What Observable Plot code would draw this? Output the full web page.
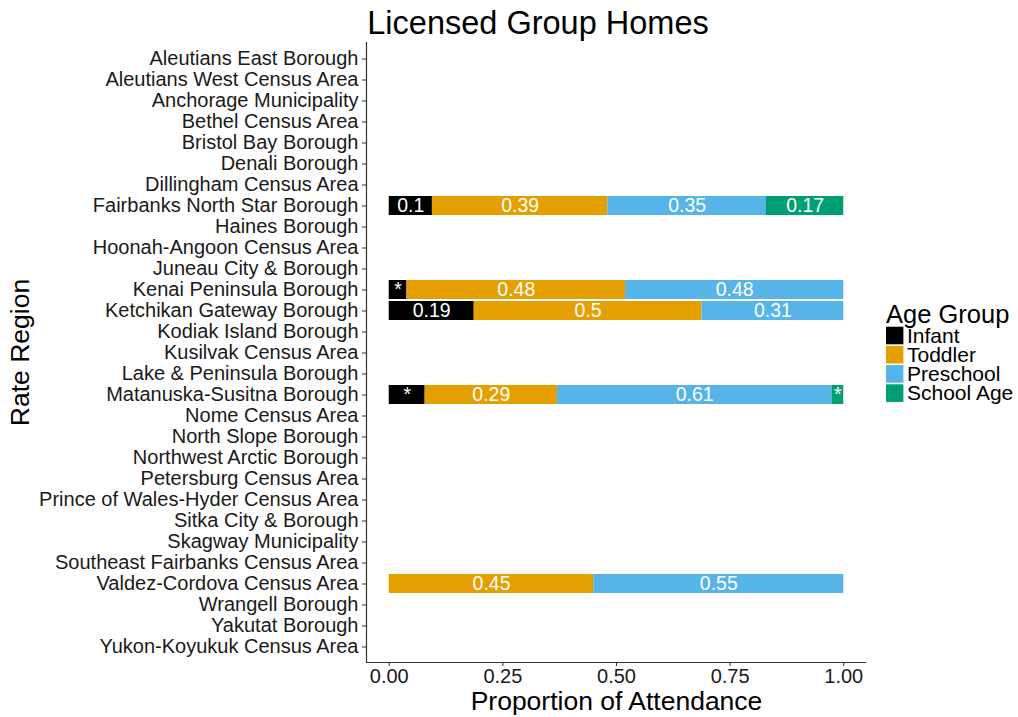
<!DOCTYPE html>
<html><head><meta charset="utf-8">
<script src="https://cdn.jsdelivr.net/npm/d3@7"></script>
<script src="https://cdn.jsdelivr.net/npm/@observablehq/plot@0.6"></script>
<style>
body{margin:0;background:#fff;}
#wrap{position:relative;width:1018px;height:717px;font-family:"Liberation Sans",Arial,sans-serif;}
#legend{position:absolute;left:870px;top:290px;}
</style>
</head><body><div id="wrap"></div>
<script>
const regions = [
  "Aleutians East Borough","Aleutians West Census Area","Anchorage Municipality","Bethel Census Area",
  "Bristol Bay Borough","Denali Borough","Dillingham Census Area","Fairbanks North Star Borough",
  "Haines Borough","Hoonah-Angoon Census Area","Juneau City & Borough","Kenai Peninsula Borough",
  "Ketchikan Gateway Borough","Kodiak Island Borough","Kusilvak Census Area","Lake & Peninsula Borough",
  "Matanuska-Susitna Borough","Nome Census Area","North Slope Borough","Northwest Arctic Borough",
  "Petersburg Census Area","Prince of Wales-Hyder Census Area","Sitka City & Borough","Skagway Municipality",
  "Southeast Fairbanks Census Area","Valdez-Cordova Census Area","Wrangell Borough","Yakutat Borough",
  "Yukon-Koyukuk Census Area"
];
const groups = ["Infant","Toddler","Preschool","School Age"];
const groupColors = ["#000000","#E69F00","#56B4E9","#009E73"];

const barRegions = ["Fairbanks North Star Borough","Kenai Peninsula Borough","Ketchikan Gateway Borough","Matanuska-Susitna Borough","Valdez-Cordova Census Area"];
const infant    = [0.095, 0.039, 0.187, 0.079, 0];
const toddler   = [0.386, 0.481, 0.501, 0.291, 0.450];
const preschool = [0.349, 0.480, 0.312, 0.604, 0.550];
const schoolAge = [0.170, 0,     0,     0.026, 0];
const infantLabels    = ["0.1","*","0.19","*",""];
const toddlerLabels   = ["0.39","0.48","0.5","0.29","0.45"];
const preschoolLabels = ["0.35","0.48","0.31","0.61","0.55"];
const schoolAgeLabels = ["0.17","","","*",""];
const xTicks = [0, 0.25, 0.5, 0.75, 1];

const series = [[infant, infantLabels],[toddler, toddlerLabels],[preschool, preschoolLabels],[schoolAge, schoolAgeLabels]];
const rows = [];
barRegions.forEach((r, i) => {
  series.forEach(([vals, labs], g) => {
    if (vals[i] > 0) rows.push({region: r, group: groups[g], value: vals[i], label: labs[i]});
  });
});

const font = '"Liberation Sans", Arial, sans-serif';
const axisColor = "#333333";

const bottomLine = (index, scales, values, dims) => {
  const l = document.createElementNS("http://www.w3.org/2000/svg", "line");
  const x0 = dims.marginLeft, x1 = dims.width - dims.marginRight;
  const y = dims.height - dims.marginBottom + 0.5;
  l.setAttribute("x1", x0); l.setAttribute("x2", x1);
  l.setAttribute("y1", y); l.setAttribute("y2", y);
  l.setAttribute("stroke", axisColor); l.setAttribute("stroke-width", 1.2);
  return l;
};

const chart = Plot.plot({
  width: 1018, height: 717,
  marginLeft: 366, marginRight: 152, marginTop: 42, marginBottom: 55,
  style: {fontFamily: font, background: "white", color: "#1a1a1a", overflow: "visible"},
  x: {domain: [-0.05, 1.05]},
  y: {domain: regions, paddingInner: 0.1, paddingOuter: 0.15},
  color: {domain: groups, range: groupColors},
  marks: [
    Plot.barX(rows, {x: "value", y: "region", fill: "group", order: groups}),
    Plot.text(rows, Plot.stackX({x: "value", y: "region", z: "group", order: groups, text: "label", fill: "white", fontSize: 19.5})),
    Plot.ruleX([-0.05], {stroke: axisColor, strokeWidth: 1.2}),
    bottomLine,
    Plot.axisX({ticks: xTicks, tickFormat: d => d.toFixed(2), tickSize: 4, tickPadding: 2, fontSize: 20, label: null, stroke: axisColor, fill: "#1a1a1a"}),
    Plot.axisY({tickSize: 4, tickPadding: 4, fontSize: 20, label: null, stroke: axisColor, fill: "#1a1a1a"}),
    Plot.text(["Licensed Group Homes"], {text: d => d, frameAnchor: "top-left", dx: 171.5, dy: -19, textAnchor: "middle", lineAnchor: "middle", fontSize: 32.5, fill: "#000"}),
    Plot.text(["Proportion of Attendance"], {text: d => d, frameAnchor: "bottom", dy: 39.5, textAnchor: "middle", lineAnchor: "middle", fontSize: 26.5, fill: "#000"}),
    Plot.text(["Rate Region"], {text: d => d, frameAnchor: "left", dx: -346, rotate: -90, textAnchor: "middle", lineAnchor: "middle", fontSize: 26.5, fill: "#000"})
  ]
});

const wrap = document.getElementById("wrap");
wrap.appendChild(chart);

// Legend
const lg = d3.select(wrap).append("svg").attr("id", "legend").attr("width", 148).attr("height", 125)
  .style("font-family", font);
lg.append("text").attr("x", 16).attr("y", 32.7).attr("font-size", 25.5).attr("fill", "#000").text("Age Group");
groups.forEach((g, i) => {
  const y0 = 36.7 + i * 19.2;
  lg.append("rect").attr("x", 16).attr("y", y0).attr("width", 17.4).attr("height", 17.6).attr("fill", groupColors[i]);
  lg.append("text").attr("x", 37).attr("y", y0 + 8.8).attr("dy", "0.35em").attr("font-size", 21).attr("fill", "#000").text(g);
});
</script>
</body></html>
